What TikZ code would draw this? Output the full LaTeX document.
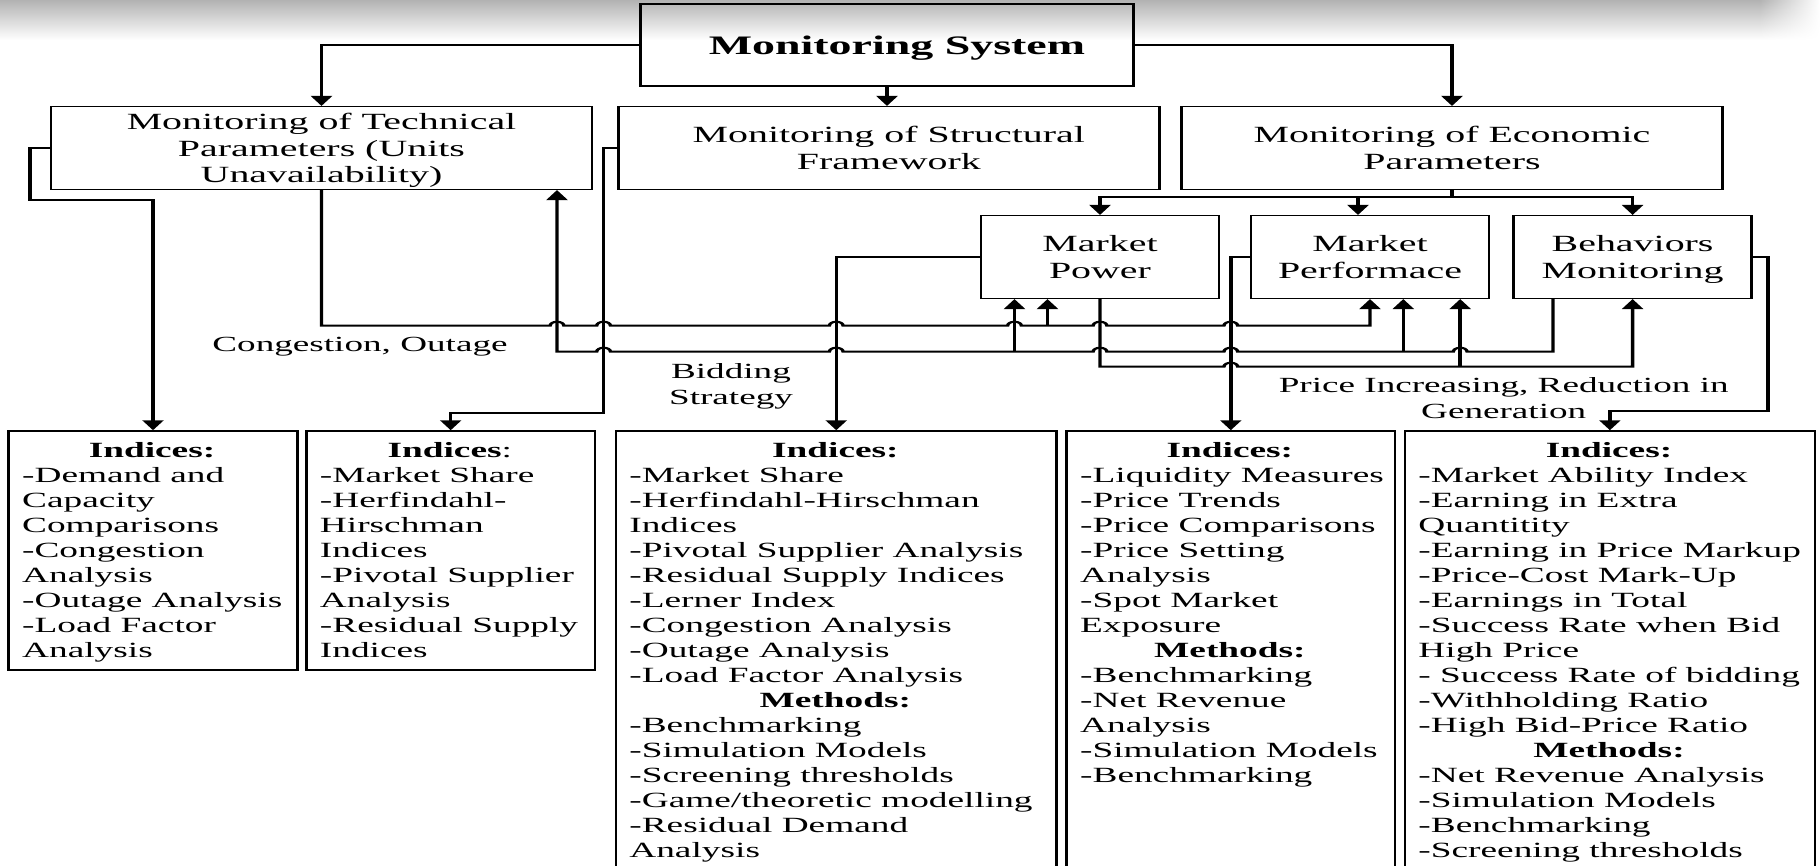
\documentclass[tikz,border=0pt]{standalone}
\usepackage{fontspec}
\setmainfont{Liberation Serif}
\usetikzlibrary{arrows.meta,fadings}
\tikzfading[name=hazeout, left color=transparent!0, right color=transparent!100]
% horizontal line jumps (bridge over a crossing vertical line)
\newcommand\jumpR[2]{-- ([xshift=-4pt]#1,#2) arc[start angle=180,end angle=0,radius=4pt]}
\newcommand\jumpL[2]{-- ([xshift=4pt]#1,#2) arc[start angle=0,end angle=180,radius=4pt]}
\newcommand\boxhead[2]{\makebox[#1]{\bfseries #2}}
\begin{document}
\begin{tikzpicture}[x=1pt,y=-1pt]
\useasboundingbox (0,0) rectangle (1820,865);
% soft grey band along the top edge
\shade[top color=black!30, bottom color=white] (0,0) rectangle (1760,40);
\shade[top color=black!30, bottom color=white, path fading=hazeout] (1760,0) rectangle (1820,40);
\begin{scope}[x=0.581395pt, transform canvas={xscale=1.72},
  box/.style={draw, line width=1.5pt, inner sep=0pt, align=center, text depth=0pt,
    font=\fontsize{23.2}{26.8}\selectfont},
  topbox/.style={box, minimum width=314.6pt, minimum height=82.6pt},
  midbox/.style={box, minimum width=138.3pt, minimum height=82.6pt,
    font=\fontsize{23.2}{27.3}\selectfont},
  lowbox/.style={draw, line width=1.5pt, inner sep=0pt},
  btxt/.style={inner sep=0pt, anchor=north west, align=left,
    font=\fontsize{21.7}{25}\selectfont},
  lbl/.style={inner sep=0pt, align=center, font=\fontsize{21.6}{25.8}\selectfont},
  conn/.style={line width=2pt},
  arr/.style={conn, -{Triangle[width=12pt,length=10pt]}}]
\clip (0,0) rectangle (1820,865);

% ---- boxes
\node[box, minimum width=286.3pt, minimum height=82pt,
  font=\fontsize{26.7}{30}\selectfont\bfseries] (ms) at (887,45) {\hspace{11.6pt}Monitoring System};
\node[topbox] (tech) at (321.5,148) {Monitoring of Technical\\Parameters (Units\\Unavailability)};
\node[topbox] (struct) at (888.8,148) {Monitoring of Structural\\Framework};
\node[topbox] (econ) at (1452,148) {Monitoring of Economic\\Parameters};
\node[midbox] (mp) at (1100,257) {Market\\Power};
\node[midbox] (mperf) at (1370,257) {Market\\Performace};
\node[midbox] (bm) at (1632.6,257) {Behaviors\\Monitoring};

\node[lowbox, minimum width=167.9pt, minimum height=239pt] (c1) at (153,550.5) {};
\node[lowbox, minimum width=167.8pt, minimum height=239pt] (c2) at (450.7,550.5) {};
\node[lowbox, minimum width=256.3pt, minimum height=469pt] (c3) at (836.25,665.5) {};
\node[lowbox, minimum width=190.9pt, minimum height=469pt] (c4) at (1230.8,665.5) {};
\node[lowbox, minimum width=238.4pt, minimum height=469pt] (c5) at (1609.9,665.5) {};

% ---- box contents
\node[btxt] (c1t) at ([xshift=8.43pt,yshift=-11.5pt]c1.north west)
  {\boxhead{151pt}{Indices:}\\-Demand and\\Capacity\\Comparisons\\-Congestion\\Analysis\\-Outage Analysis\\-Load Factor\\Analysis};
\node[btxt] (c2t) at ([xshift=8.43pt,yshift=-11.5pt]c2.north west)
  {\makebox[151pt]{\textbf{Indices}:}\\-Market Share\\-Herfindahl-\\Hirschman\\Indices\\-Pivotal Supplier\\Analysis\\-Residual Supply\\Indices};
\node[btxt] (c3t) at ([xshift=8.43pt,yshift=-11.5pt]c3.north west)
  {\boxhead{239.5pt}{Indices:}\\-Market Share\\-Herfindahl-Hirschman\\Indices\\-Pivotal Supplier Analysis\\-Residual Supply Indices\\-Lerner Index\\-Congestion Analysis\\-Outage Analysis\\-Load Factor Analysis\\\boxhead{239.5pt}{Methods:}\\-Benchmarking\\-Simulation Models\\-Screening thresholds\\-Game/theoretic modelling\\-Residual Demand\\Analysis};
\node[btxt] (c4t) at ([xshift=8.43pt,yshift=-11.5pt]c4.north west)
  {\boxhead{174.1pt}{Indices:}\\-Liquidity Measures\\-Price Trends\\-Price Comparisons\\-Price Setting\\Analysis\\-Spot Market\\Exposure\\\boxhead{174.1pt}{Methods:}\\-Benchmarking\\-Net Revenue\\Analysis\\-Simulation Models\\-Benchmarking};
\node[btxt] (c5t) at ([xshift=8.43pt,yshift=-11.5pt]c5.north west)
  {\boxhead{221.6pt}{Indices:}\\-Market Ability Index\\-Earning in Extra\\Quantitity\\-Earning in Price Markup\\-Price-Cost Mark-Up\\-Earnings in Total\\-Success Rate when Bid\\High Price\\- Success Rate of bidding\\-Withholding Ratio\\-High Bid-Price Ratio\\\boxhead{221.6pt}{Methods:}\\-Net Revenue Analysis\\-Simulation Models\\-Benchmarking\\-Screening thresholds};

% ---- labels
\node[lbl] (lcong) at (360,346.5) {Congestion, Outage};
\node[lbl] (lbid) at (731,386.5) {Bidding\\Strategy};
\node[lbl] (lprice) at (1503.7,398) {Price Increasing, Reduction in\\Generation};

% ---- helper points
\coordinate (ebus) at (1452,196.7);
\coordinate (pin) at (1358,0);
\coordinate (jA) at (1014.5,351.7);
\coordinate (jB) at (1047.5,325.7);
\coordinate (jC) at (1403.3,351.7);
\coordinate (jD) at (1460.2,366.7);
\coordinate (bo) at (1553,0);
\coordinate (ti) at (557,0);

% ---- top level
\draw[arr] (ms.west) -| (tech.north);
\draw[arr] (ms.south) -- (ms.south |- struct.north);
\draw[arr] (ms.east) -| (econ.north);
\draw[conn] (econ.south) -- (ebus);
\draw[arr] (ebus) -| (mp.north);
\draw[arr] (ebus) -| (pin |- mperf.north);
\draw[arr] (ebus) -| (bm.north);

% ---- down to the index boxes
\draw[arr] (tech.west) -| (30,200) -| (c1.north);
\draw[arr] (struct.west) -| (603.6,413) -| (c2.north);
\draw[arr] (mp.west) -| (c3.north);
\draw[arr] (mperf.west) -| (c4.north);
\draw[arr] (bm.east) -| (1767.8,410.7) -| (c5.north);

% ---- congestion, outage
\draw[arr] (tech.south) -- (321.5,325.7) \jumpR{557}{325.7} \jumpR{603.6}{325.7}
  \jumpR{836.25}{325.7} \jumpR{1014.5}{325.7} \jumpR{1100}{325.7} \jumpR{1230.8}{325.7}
  -- (1370,325.7) -- (mperf.south);
\draw[arr] (jB) -- (jB |- mp.south);

% ---- bidding strategy
\draw[arr] (bo |- bm.south) -- (1553,351.7) \jumpL{1460.2}{351.7} \jumpL{1230.8}{351.7}
  \jumpL{1100}{351.7} \jumpL{836.25}{351.7} \jumpL{603.6}{351.7}
  -- (557,351.7) -- (ti |- tech.south);
\draw[arr] (jA) -- (jA |- mp.south);
\draw[arr] (jC) -- (jC |- mperf.south);

% ---- price increasing, reduction in generation
\draw[arr] (mp.south) -- (1100,366.7) \jumpR{1230.8}{366.7} -- (1632.6,366.7) -- (bm.south);
\draw[arr] (jD) -- (jD |- mperf.south);
\end{scope}
\end{tikzpicture}
\end{document}
